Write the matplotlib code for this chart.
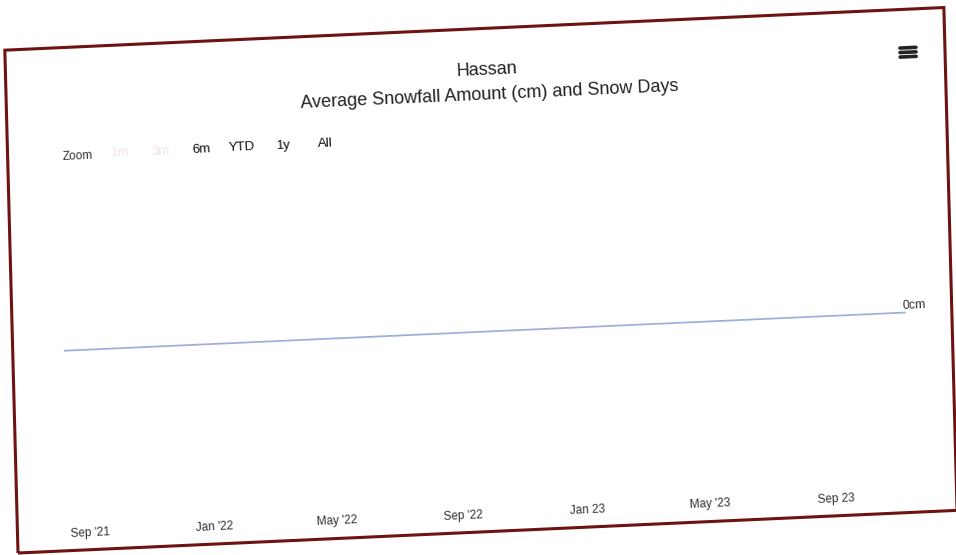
import numpy as np
import pandas as pd
import matplotlib
matplotlib.use("Agg")
import matplotlib.pyplot as plt
import matplotlib.dates as mdates
from matplotlib.transforms import Affine2D, IdentityTransform, blended_transform_factory
from matplotlib.patches import Rectangle
from matplotlib.lines import Line2D

plt.rcParams['font.family'] = ['Liberation Sans', 'DejaVu Sans']

city = "Hassan"
subtitle = "Average Snowfall Amount (cm) and Snow Days"

# monthly averages, Aug 2021 .. Nov 2023 (no snow recorded)
months = pd.date_range("2021-08-01", "2023-11-01", freq="MS") + pd.Timedelta(days=11)
snowfall_cm = [0, 0, 0, 0, 0, 0, 0, 0, 0, 0, 0, 0, 0, 0,
               0, 0, 0, 0, 0, 0, 0, 0, 0, 0, 0, 0, 0, 0]

tick_dates = ["2021-09-01", "2022-01-01", "2022-05-01", "2022-09-01",
              "2023-01-01", "2023-05-01", "2023-09-01"]
tick_labels = ["Sep '21", "Jan '22", "May '22", "Sep '22", "Jan 23", "May '23", "Sep 23"]

zoom_buttons = ["1m", "3m", "6m", "YTD", "1y", "All"]
zoom_enabled = [False, False, True, True, True, True]

W, H = 956, 555
fig = plt.figure(figsize=(W / 100, H / 100), dpi=100)

# the card sits at a slight tilt: map flat pixel coords onto the page
a = np.radians(2.6)
b = np.radians(1.5)
tilt = Affine2D(np.array([[np.cos(a), -np.sin(b), 18.0],
                          [np.sin(a), np.cos(b), 2.0],
                          [0.0, 0.0, 1.0]]))
rot = np.degrees(a)

# card border
card = Rectangle((0, 0), 940, 503, transform=tilt, fill=False,
                 edgecolor='#6e1212', lw=2.2)
fig.add_artist(card)

# plot area (flat coords)
x0, x1, y0, y1 = 52, 893, 30, 370
ax = fig.add_axes([x0 / W, y0 / H, (x1 - x0) / W, (y1 - y0) / H])
ax.axis('off')
ax.set_xlim(months[0], months[-1])
ax.set_ylim(-1, 1)
ax.plot(months, snowfall_cm, color='#9fb0d8', lw=1.3,
        transform=ax.transData + tilt, clip_on=False)

# x tick labels
xtrans = blended_transform_factory(ax.transData, IdentityTransform()) + tilt
for d, lab in zip(tick_dates, tick_labels):
    ax.text(mdates.date2num(pd.Timestamp(d)), 17, lab, transform=xtrans,
            rotation=rot, rotation_mode='anchor', ha='center', va='center',
            fontsize=8.5, color='#333333')

# y axis label on the opposite side
ax.text(891, 201, "0cm", transform=tilt, rotation=rot, rotation_mode='anchor',
        ha='left', va='bottom', fontsize=9, color='#333333')

# titles
fig.text(481, 461, city, transform=tilt, rotation=rot, rotation_mode='anchor',
         ha='center', va='center', fontsize=13, color='#222222')
fig.text(483, 436, subtitle, transform=tilt, rotation=rot, rotation_mode='anchor',
         ha='center', va='center', fontsize=13, color='#222222')

# range selector
fig.text(70, 394, "Zoom", transform=tilt, rotation=rot, rotation_mode='anchor',
         ha='center', va='center', fontsize=8.5, color='#333333')
for ux, lab, on in zip([113, 153, 194, 234, 276, 318], zoom_buttons, zoom_enabled):
    fig.text(ux, 395, lab, transform=tilt, rotation=rot, rotation_mode='anchor',
             ha='center', va='center', fontsize=9.5,
             color='#111111' if on else '#f0e4e4')

# context menu icon
for v in (464.5, 460, 455.5):
    fig.add_artist(Line2D([895, 911], [v, v], transform=tilt,
                          color='#222222', lw=2.6, solid_capstyle='round'))

fig.savefig("out.png", dpi=100, facecolor='white')
